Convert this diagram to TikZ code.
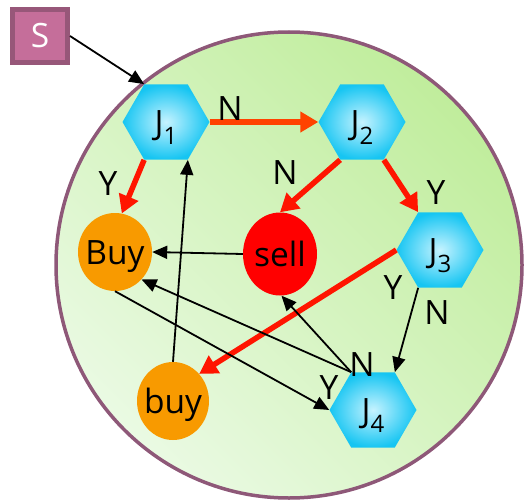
\documentclass[tikz,border=0pt]{standalone}
\usepackage{fontspec}
\setmainfont{Open Sans}
\usetikzlibrary{shapes.geometric,arrows.meta}
\definecolor{hexin}{HTML}{C6F3FF}
\definecolor{hexout}{HTML}{16C5F2}
\definecolor{orangebuy}{HTML}{F89A00}
\definecolor{sellred}{HTML}{FF0000}
\definecolor{redarrow}{HTML}{FF1500}
\definecolor{orangered}{HTML}{FF4200}
\definecolor{rimcol}{HTML}{8E5878}
\definecolor{sfill}{HTML}{C56E9A}
\definecolor{sdraw}{HTML}{975779}
\definecolor{gUR}{HTML}{C0ED9C}
\definecolor{gLL}{HTML}{EAFAE3}
\begin{document}
\begin{tikzpicture}[x=1pt,y=-1pt,
  every node/.style={font=\fontsize{33.5}{36}\selectfont, inner sep=0pt, text height=24pt, text depth=0pt},
  hexnode/.style={regular polygon, regular polygon sides=6, minimum size=87pt, inner color=hexin, outer color=hexout},
  lbl/.style={},
  redarr/.style={line width=5.5pt, redarrow, -{Triangle[length=18pt,width=20pt]}},
  orarr/.style={line width=5.5pt, orangered, -{Triangle[length=18pt,width=20pt]}},
  blkarr/.style={line width=1.8pt, black, -{Triangle[length=15pt,width=13pt]}}
]
\useasboundingbox (0,0) rectangle (525,503);
% background circle
\node[circle, minimum size=466pt, draw=rimcol, line width=3.5pt,
      top color=gUR, bottom color=gLL, shading angle=-45] (bg) at (289,265) {};
% nodes
\node[rectangle, minimum width=55pt, minimum height=53pt, fill=sfill, draw=sdraw, line width=5pt, text=white] (S) at (40,36) {S};
\node[hexnode] (J1) at (166,122) {J\raisebox{-10pt}{\fontsize{24}{24}\selectfont 1}};
\node[hexnode] (J2) at (362,122) {J\raisebox{-10pt}{\fontsize{24}{24}\selectfont 2}};
\node[hexnode] (J3) at (440,250) {J\raisebox{-10pt}{\fontsize{24}{24}\selectfont 3}};
\node[hexnode] (J4) at (373,410) {J\raisebox{-10pt}{\fontsize{24}{24}\selectfont 4}};
\node[ellipse, minimum width=74pt, minimum height=78pt, fill=orangebuy] (Buy) at (115,252) {\makebox[0pt]{Buy}};
\node[ellipse, minimum width=74pt, minimum height=83pt, fill=sellred] (sell) at (280,254) {\makebox[0pt]{sell}};
\node[ellipse, minimum width=72pt, minimum height=78pt, fill=orangebuy] (buy) at (173,401) {\makebox[0pt]{buy}};
% red connectors
\draw[orarr] (J1.corner 6) -- (J2.corner 3);
\draw[redarr] (J1.corner 4) -- (Buy.80);
\draw[redarr] (J2.corner 4) -- (sell.90);
\draw[redarr] (J2.corner 5) -- (J3.corner 2);
\draw[redarr] (J3.corner 3) -- (buy.46);
% black connectors
\draw[blkarr] (S.east) -- (J1.corner 2);
\draw[blkarr] (sell.west) -- (Buy.east);
\draw[blkarr] (buy.north) -- (J1.corner 5);
\draw[blkarr] (J3.corner 4) -- (J4.corner 1);
\draw[blkarr] (Buy.south) -- (J4.corner 3);
\draw[blkarr] (J4.corner 2) -- (Buy.-46);
\draw[blkarr] (J4.corner 2) -- (sell.-88);
% labels
\node[lbl] (l1) at (230,109) {N};
\node[lbl] (l2) at (108,183) {Y};
\node[lbl] (l3) at (285,172) {N};
\node[lbl] (l4) at (436,192) {Y};
\node[lbl] (l5) at (393,287) {Y};
\node[lbl] (l6) at (437,312) {N};
\node[lbl] (l7) at (362,364) {N};
\node[lbl] (l8) at (329,387) {Y};
\end{tikzpicture}
\end{document}
